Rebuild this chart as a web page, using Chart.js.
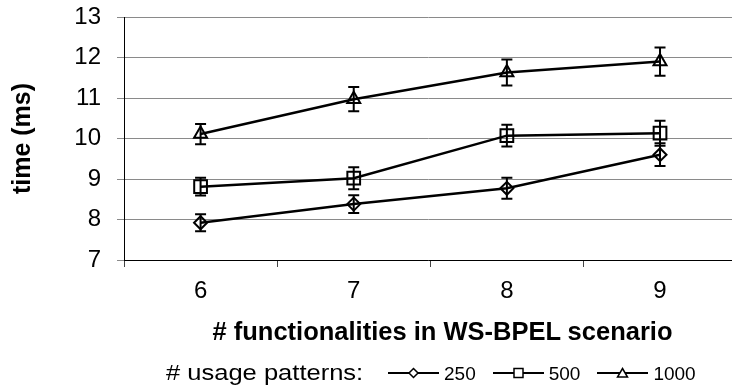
<!DOCTYPE html>
<html>
<head>
<meta charset="utf-8">
<script src="https://cdn.jsdelivr.net/npm/chart.js@4.4.0/dist/chart.umd.min.js"></script>
<style>
  html, body { margin: 0; padding: 0; background: #fff; }
  #wrap { position: relative; width: 732px; height: 389px; overflow: hidden; font-family: "Liberation Sans", Arial, sans-serif; color: #000; }
  #xTitle { position: absolute; left: 0; width: 885px; top: 319px; text-align: center; font-weight: bold; font-size: 25.5px; line-height: 1; white-space: nowrap; }
  #legend { position: absolute; left: 166px; top: 362px; height: 22px; display: flex; align-items: center; white-space: nowrap; }
  #legend .prefix { display: inline-block; width: 198px; font-size: 22px; line-height: 1; transform: scaleX(1.16); transform-origin: left center; margin-right: 24px; }
  #legend svg { display: block; margin-right: 5px; }
  #legend .num { font-size: 19px; line-height: 1; margin-right: 17px; }
</style>
</head>
<body>
<div id="wrap">
  <canvas id="chart" width="732" height="389"></canvas>
  <div id="xTitle"># functionalities in WS-BPEL scenario</div>
  <div id="legend"></div>
</div>
<script>
// données
const categories = [6, 7, 8, 9];
const seriesNames = ['250', '500', '1000'];
const pointStyles = ['rectRot', 'rect', 'triangle'];
const pointSizes = [6.5, 9, 7.5];
const values250 = [7.92, 8.38, 8.77, 9.60];
const values500 = [8.81, 9.02, 10.07, 10.13];
const values1000 = [10.11, 10.97, 11.63, 11.90];
const err250 = [0.21, 0.22, 0.26, 0.28];
const err500 = [0.22, 0.27, 0.27, 0.31];
const err1000 = [0.25, 0.30, 0.32, 0.35];
const yTicks = [7, 8, 9, 10, 11, 12, 13];
const yTitle = 'time (ms)';
const legendPrefix = '# usage patterns:';

const seriesValues = [values250, values500, values1000];
const seriesErrors = [err250, err500, err1000];
const FONT = '"Liberation Sans", Arial, sans-serif';

// ticks : une marque entre les catégories, un libellé sur chaque catégorie
const xTickValues = categories.flatMap(c => [c - 0.5, c]);

// barres d'erreur dessinées avec les échelles du graphique
const errorBars = {
    id: 'errorBars',
    afterDatasetsDraw(chart) {
        const ctx = chart.ctx;
        const xs = chart.scales.x;
        const ys = chart.scales.y;
        ctx.save();
        ctx.strokeStyle = '#000';
        ctx.lineWidth = 2;
        chart.data.datasets.forEach(ds => {
            ds.data.forEach((p, i) => {
                const x = xs.getPixelForValue(p.x);
                const top = ys.getPixelForValue(p.y + ds.errors[i]);
                const bot = ys.getPixelForValue(p.y - ds.errors[i]);
                ctx.beginPath();
                ctx.moveTo(x, top); ctx.lineTo(x, bot);
                ctx.moveTo(x - 5.5, top); ctx.lineTo(x + 5.5, top);
                ctx.moveTo(x - 5.5, bot); ctx.lineTo(x + 5.5, bot);
                ctx.stroke();
            });
        });
        ctx.restore();
    }
};

const datasets = seriesNames.map((name, s) => ({
    label: name,
    data: categories.map((c, i) => ({ x: c, y: seriesValues[s][i] })),
    errors: seriesErrors[s],
    borderColor: '#000',
    borderWidth: 2.5,
    pointStyle: pointStyles[s],
    pointRadius: pointSizes[s],
    pointBorderWidth: 2,
    pointBorderColor: '#000',
    pointBackgroundColor: 'rgba(0,0,0,0)',
    tension: 0,
    fill: false
}));

new Chart(document.getElementById('chart'), {
    type: 'line',
    data: { datasets },
    plugins: [errorBars],
    options: {
        responsive: false,
        animation: false,
        devicePixelRatio: 1,
        layout: { autoPadding: false, padding: { top: 17, right: 0, bottom: 39, left: 0 } },
        plugins: { legend: { display: false }, tooltip: { enabled: false } },
        scales: {
            x: {
                type: 'linear',
                min: 5.5,
                max: 9.47,
                afterBuildTicks(scale) { scale.ticks = xTickValues.map(v => ({ value: v })); },
                afterFit(scale) {
                    scale.height = 90;
                    scale.paddingLeft = 0;
                    scale.paddingRight = 0;
                },
                ticks: {
                    autoSkip: false,
                    maxRotation: 0,
                    padding: 10,
                    color: '#000',
                    font: { family: FONT, size: 24 },
                    callback: v => Number.isInteger(v) ? String(v) : ''
                },
                grid: {
                    drawOnChartArea: false,
                    tickLength: 7,
                    color: c => (c.tick && Number.isInteger(c.tick.value)) ? 'rgba(0,0,0,0)' : '#444'
                },
                border: { color: '#000', width: 1 }
            },
            y: {
                min: 7,
                max: 13,
                afterBuildTicks(scale) { scale.ticks = yTicks.map(v => ({ value: v })); },
                afterFit(scale) {
                    scale.width = 124;
                    scale.paddingTop = 0;
                    scale.paddingBottom = 0;
                },
                ticks: { padding: 16, color: '#000', font: { family: FONT, size: 24 } },
                grid: { color: '#8a8a8a', lineWidth: 1, tickLength: 7 },
                border: { color: '#000', width: 1 },
                title: {
                    display: true,
                    text: yTitle,
                    color: '#000',
                    font: { family: FONT, size: 25, weight: 'bold' },
                    padding: { top: 8, bottom: 0 }
                }
            }
        }
    }
});

// légende HTML : trait + marqueur, puis le nom de la série
function markerSvg(style) {
    let m = '';
    if (style === 'rectRot') m = '<polygon points="25.5,3.5 30,8 25.5,12.5 21,8" fill="#fff" stroke="#000" stroke-width="1.5"/>';
    if (style === 'rect') m = '<rect x="21" y="3.5" width="9" height="9" fill="#fff" stroke="#000" stroke-width="1.5"/>';
    if (style === 'triangle') m = '<polygon points="25.5,3.5 30.5,12 20.5,12" fill="#fff" stroke="#000" stroke-width="1.5"/>';
    return '<svg width="51" height="16" viewBox="0 0 51 16"><line x1="0" y1="8" x2="51" y2="8" stroke="#000" stroke-width="2"/>' + m + '</svg>';
}
const legend = document.getElementById('legend');
let html = '<span class="prefix">' + legendPrefix + '</span>';
seriesNames.forEach((name, s) => {
    html += markerSvg(pointStyles[s]) + '<span class="num">' + name + '</span>';
});
legend.innerHTML = html;
</script>
</body>
</html>
